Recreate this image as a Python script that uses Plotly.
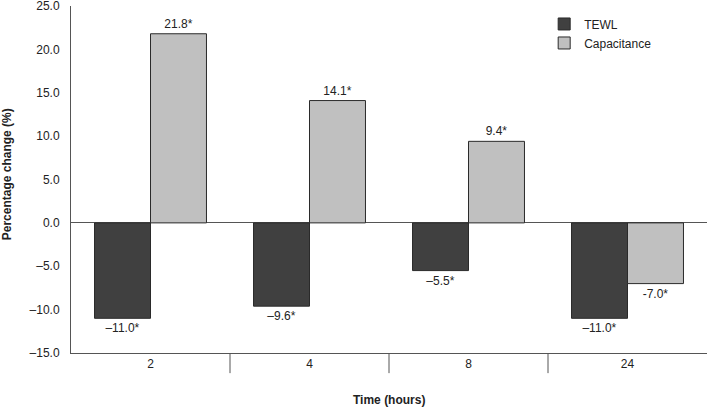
import plotly.graph_objects as go

categories = ["2", "4", "8", "24"]
tewl = [-11.0, -9.6, -5.5, -11.0]
capacitance = [21.8, 14.1, 9.4, -7.0]
tewl_labels = ["\u201311.0*", "\u20139.6*", "\u20135.5*", "\u201311.0*"]
capacitance_labels = ["21.8*", "14.1*", "9.4*", "-7.0*"]
y_ticks = [-15, -10, -5, 0, 5, 10, 15, 20, 25]
y_tick_labels = ["\u201315.0", "\u201310.0", "\u20135.0", "0.0", "5.0", "10.0", "15.0", "20.0", "25.0"]

font_family = "Liberation Sans, Arial, sans-serif"
axis_color = "#555555"
label_font = dict(color="#222", size=12, family=font_family)

fig = go.Figure()
fig.add_trace(go.Bar(
    x=categories, y=tewl, name="TEWL",
    marker=dict(color="#404040", line=dict(color="#2a2a2a", width=1)),
    text=tewl_labels, textposition="outside", textfont=label_font,
    cliponaxis=False,
))
fig.add_trace(go.Bar(
    x=categories, y=capacitance, name="Capacitance",
    marker=dict(color="#c0c0c0", line=dict(color="#2a2a2a", width=1)),
    text=capacitance_labels, textposition="outside", textfont=label_font,
    cliponaxis=False,
))

# category separators below the x axis
for i in range(len(categories) - 1):
    fig.add_shape(type="line", xref="x", yref="paper",
                  x0=i + 0.5, x1=i + 0.5, y0=0, y1=-0.058,
                  line=dict(color=axis_color, width=1))

fig.add_annotation(text="<b>Percentage change (%)</b>", xref="paper", yref="paper",
                   x=0, y=0.515, xanchor="center", yanchor="middle",
                   xshift=-64, textangle=-90, showarrow=False,
                   font=dict(size=12, color="#222", family=font_family))
fig.add_annotation(text="<b>Time (hours)</b>", xref="paper", yref="paper",
                   x=0.5, y=0, xanchor="center", yanchor="middle",
                   yshift=-47, showarrow=False,
                   font=dict(size=12, color="#222", family=font_family))

fig.update_layout(
    width=709, height=407,
    margin=dict(l=71, r=2, t=6, b=54),
    paper_bgcolor="white", plot_bgcolor="white",
    barmode="group", bargap=0.296, bargroupgap=0,
    font=dict(family=font_family, size=12, color="#222"),
    legend=dict(x=0.744, y=0.99, xanchor="left", yanchor="top",
                bgcolor="rgba(0,0,0,0)", font=dict(size=12),
                itemwidth=30, tracegroupgap=0),
    showlegend=True,
)
fig.update_xaxes(
    type="category", showline=True, linecolor=axis_color, linewidth=1,
    ticks="", showgrid=False, zeroline=False, automargin=False,
    tickfont=dict(size=12),
    range=[-0.5, 3.5],
)
fig.update_yaxes(
    range=[-15, 25], tickvals=y_ticks, ticktext=y_tick_labels,
    showline=True, linecolor=axis_color, linewidth=1, ticks="",
    showgrid=False, zeroline=True, zerolinecolor=axis_color, zerolinewidth=1,
    automargin=False, ticklabeloverflow="allow", ticklabelstandoff=8,
    tickfont=dict(size=12),
)

fig.write_html("out.html", config={"displayModeBar": False},
               post_script="document.body.style.margin='0';document.body.style.overflow='hidden';")
